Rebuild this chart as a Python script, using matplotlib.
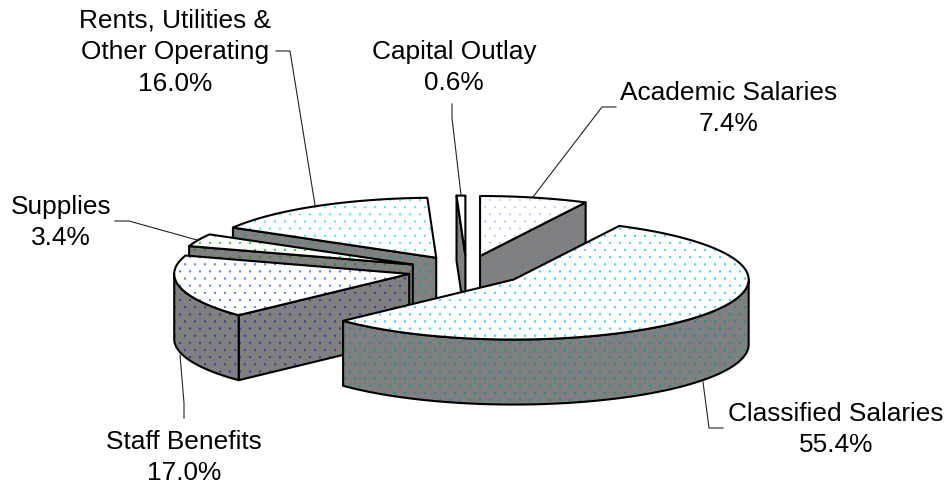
import numpy as np
import matplotlib
matplotlib.use("Agg")
import matplotlib.pyplot as plt
import matplotlib.hatch as mhatch
from matplotlib.patches import Polygon
from matplotlib.path import Path

categories = ["Academic Salaries", "Classified Salaries", "Staff Benefits",
              "Supplies", "Rents, Utilities &\nOther Operating", "Capital Outlay"]
shares = [7.4, 55.4, 17.0, 3.4, 16.0, 0.6]

# style per slice, same order as categories
top_dots = ["#b4d0f0", "#20d0ff", "#5070e8", "#20c820", "#40e0ff", "#ffffff"]
side_dots = ["#6484a4", "#1090a8", "#283c98", "#209020", "#2094a8", "#808080"]
draw_order = [5, 0, 4, 3, 2, 1]
label_xy = [(729, 108.5), (836, 429.5), (184, 457.5), (61, 222.5), (175, 52), (454, 67.5)]
leaders = [[(616, 107), (602, 107), (533, 197)],
           [(703, 382), (709, 428), (723, 428)],
           [(180, 355), (184, 403), (184, 418)],
           [(115, 221), (129, 221), (197, 240)],
           [(276, 51), (290, 51), (315, 205)],
           [(452, 104), (452, 118), (461, 195)]]

cx, cy = 466.5, 270.6
rx, ry = 235, 60
depth = 65
explode = 0.25
gray = "#808080"


class DotLattice(mhatch.HatchPatternBase):
    # staggered dots like the old office chart fill, wider than the stock "." hatch
    rows = 14
    cols = 10
    radius = 0.009

    def __init__(self, hatch, density):
        self.num_vertices = 0
        if "." not in hatch:
            return
        circle = Path.unit_circle()
        verts, codes = [], []
        for r in range(self.rows + 1):
            shift = 0.5 if r % 2 else 0
            n = self.cols if r % 2 else self.cols + 1
            for c in range(n):
                verts.append(circle.vertices * self.radius + [(c + shift) / self.cols, r / self.rows])
                codes.append(circle.codes)
        self.verts = np.concatenate(verts)
        self.codes = np.concatenate(codes)
        self.num_vertices = len(self.verts)

    def set_vertices_and_codes(self, vertices, codes):
        vertices[:] = self.verts
        codes[:] = self.codes


mhatch._hatch_types = [DotLattice]

plt.rcParams["font.family"] = ["Liberation Sans", "DejaVu Sans"]
plt.rcParams["hatch.linewidth"] = 0.3

fig = plt.figure(figsize=(9.5, 4.88), dpi=100)
ax = fig.add_axes([0, 0, 1, 1])
ax.set_xlim(0, 950)
ax.set_ylim(488, 0)
ax.axis("off")


def rim(x0, y0, t):
    return np.column_stack([x0 + rx * np.sin(t), y0 - ry * np.cos(t)])


def face(pts, dots, base, z):
    ax.add_patch(Polygon(pts, closed=True, facecolor=base, edgecolor="none", lw=0, zorder=z))
    ax.add_patch(Polygon(pts, closed=True, facecolor="none", edgecolor=dots, lw=0,
                         hatch=".", zorder=z + 0.1))
    ax.add_patch(Polygon(pts, closed=True, fill=False, edgecolor="black", lw=1.5,
                         joinstyle="round", zorder=z + 0.2))


edges = np.radians(np.cumsum([0] + shares) / sum(shares) * 360)

for rank, i in enumerate(draw_order):
    t0, t1 = edges[i], edges[i + 1]
    mid = (t0 + t1) / 2
    x0 = cx + explode * rx * np.sin(mid)
    y0 = cy - explode * ry * np.cos(mid)
    apex = np.array([x0, y0])
    z = 10 + rank * 2
    down = np.array([0, depth])

    # radial side faces, only the ones turned to the viewer
    if np.sin(t0) < -1e-6:
        p = rim(x0, y0, t0)[0]
        face([apex, p, p + down, apex + down], side_dots[i], gray, z)
    if np.sin(t1) > 1e-6:
        p = rim(x0, y0, t1)[0]
        face([apex, p, p + down, apex + down], side_dots[i], gray, z)

    # outer wall, front half of the ellipse
    lo, hi = max(t0, np.pi / 2), min(t1, 3 * np.pi / 2)
    if hi > lo:
        arc = rim(x0, y0, np.linspace(lo, hi, 120))
        face(np.vstack([arc, arc[::-1] + down]), side_dots[i], gray, z + 0.5)

    top = rim(x0, y0, np.linspace(t0, t1, 160))
    face(np.vstack([apex, top]), top_dots[i], "white", z + 1)

for i, name in enumerate(categories):
    x, y = label_xy[i]
    ax.text(x, y, f"{name}\n{shares[i]:.1f}%", ha="center", va="center",
            fontsize=18.9, linespacing=1.41, color="black", zorder=40)
    xs, ys = zip(*leaders[i])
    ax.plot(xs, ys, color="#222222", lw=0.8, zorder=5)

fig.savefig("out.png", dpi=100)
